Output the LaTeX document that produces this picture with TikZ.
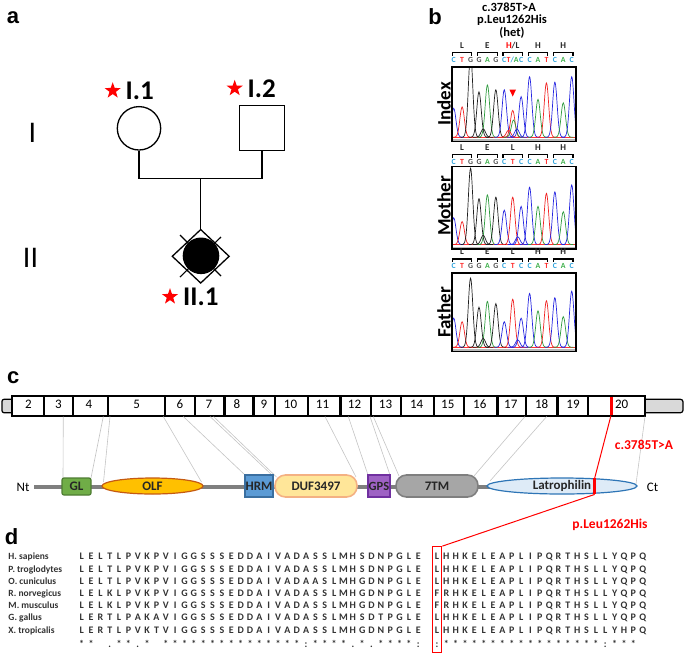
\documentclass[tikz,border=0pt]{standalone}
\usepackage{fontspec}
\setmainfont{Carlito}
\newfontfamily\arialf{Liberation Sans}
\usetikzlibrary{shapes.geometric}
\definecolor{trA}{HTML}{2E9B3E}
\definecolor{trC}{HTML}{2525E0}
\definecolor{trG}{HTML}{1E1E1E}
\definecolor{trT}{HTML}{F02222}
\definecolor{bC}{HTML}{2FA3DC}
\definecolor{bT}{HTML}{FF2A2A}
\definecolor{bG}{HTML}{505050}
\definecolor{bA}{HTML}{3DAF4A}
\definecolor{glg}{HTML}{70AD47}\definecolor{glgd}{HTML}{4E7D32}
\definecolor{olfo}{HTML}{FFC000}\definecolor{olfd}{HTML}{C55A11}
\definecolor{hrmb}{HTML}{5B9BD5}\definecolor{hrmd}{HTML}{3A6FA0}
\definecolor{dufy}{HTML}{FFE699}\definecolor{dufd}{HTML}{F4B183}
\definecolor{gpsp}{HTML}{9E62C4}\definecolor{gpsd}{HTML}{7030A0}
\definecolor{tmg}{HTML}{A6A6A6}\definecolor{tmd}{HTML}{7F7F7F}
\definecolor{latb}{HTML}{DEEBF7}\definecolor{latd}{HTML}{2E75B6}
\definecolor{bbgrey}{HTML}{7F7F7F}
\definecolor{capgrey}{HTML}{D9D9D9}
\definecolor{lgrey}{HTML}{C4C4C4}
\definecolor{txt}{HTML}{333333}
\newcommand\fs[1]{\fontsize{#1}{#1}\selectfont}
\newcount\seqk
\newcommand\seqrow[3]{\def\sy{#2}\def\sid{#1}\global\seqk=0 \seqloop#3\relax}
\def\seqloop#1{%
  \ifx\relax#1\else
    \global\advance\seqk by 1
    \pgfmathsetmacro\sx{81.7+(\the\seqk-1)*9.35+(\the\seqk>37)*9.35}%
    \if x#1\else\node[aa] (\sid c\the\seqk) at (\sx,\sy) {#1};\fi
    \expandafter\seqloop
  \fi}
\newcommand\chrom[3]{%
  \pgfmathsetmacro\bb{#2-4.5}%
  \pgfmathsetmacro\bhh{#2-#1-6}%
  \begin{scope}
    \clip (452,#1) rectangle (576,#2);
    \draw[gray!55, line width=1.4] (452,#2-1.8) -- (576,#2-1.8);
    \draw[red!80, line width=0.5] (452,\bb) -- (576,\bb);
    \foreach \c/\i/\h in {#3} {
      \pgfmathsetmacro\pc{453.7+\i*8.43}%
      \pgfmathsetmacro\pa{\pc-10}%
      \pgfmathsetmacro\pz{\pc+10}%
      \draw[color=\c, line width=0.7] plot[domain=\pa:\pz, samples=31, smooth]
        (\x,{\bb-\h*\bhh*exp(-(\x-\pc)*(\x-\pc)/10)});
    }
  \end{scope}
  \draw[line width=1.5] (452,#1) rectangle (576,#2);
}
\newcommand\codonrow[4]{%
  \foreach \a [count=\k from 0] in {#4} {
    \pgfmathsetmacro\cx{462.1+25.29*\k}%
    \node[aalab] (#1a\k) at (\cx,#2) {\a};
    \draw[brk] ({\cx-9.7},{#3+3}) -- ({\cx-9.7},#3) -- ({\cx+9.7},#3) -- ({\cx+9.7},{#3+3});
  }}
\newcommand\baserow[3]{%
  \foreach \c/\b [count=\i from 0] in {#3} {
    \pgfmathsetmacro\bxx{453.7+8.43*\i}%
    \node[basel, text=\c] (#1b\i) at (\bxx,#2) {\b};
  }}
\tikzset{
 plab/.style={font=\arialf\bfseries\fs{22}, inner sep=0},
 gen/.style={font=\fs{30}, inner sep=0},
 pid/.style={font=\bfseries\fs{27}, inner sep=0, anchor=west},
 rstar/.style={star, star points=5, star point ratio=2.5, fill=red, inner sep=0, minimum size=17},
 ped/.style={draw, line width=1.3},
 hdr/.style={font=\bfseries\fs{12.5}, inner sep=0},
 aalab/.style={font=\bfseries\fs{9}, inner sep=0, text=black!85},
 basel/.style={font=\bfseries\fs{7.8}, inner sep=0},
 brk/.style={line width=1.1},
 rot/.style={font=\bfseries\fs{19}, inner sep=0, rotate=90},
 exn/.style={font=\fs{13}, inner sep=0},
 dom/.style={font=\bfseries\fs{13}, inner sep=0, text=black!85, line width=1.2},
 conn/.style={draw=lgrey, line width=0.6},
 mutlab/.style={font=\bfseries\fs{13.5}, text=red, inner sep=0},
 spc/.style={font=\bfseries\fs{9.5}, text=txt, inner sep=0, anchor=base west},
 aa/.style={font=\bfseries\fs{10}, text=txt, inner sep=0, anchor=base},
}
\begin{document}
\begin{tikzpicture}[x=1pt,y=-1pt]
\useasboundingbox (0,0) rectangle (685,654);
% ---------- panel letters
\node[plab] (pa) at (13,17.5) {a};
\node[plab] (pb) at (435,16.7) {b};
\node[plab] (pc) at (13.3,377.5) {c};
\node[plab] (pd) at (11.7,537) {d};
% ---------- panel a : pedigree
\node[ped, circle, minimum size=43.4, inner sep=0] (I1) at (139,128.3) {};
\node[ped, rectangle, minimum size=45, inner sep=0] (I2) at (262,128.3) {};
\coordinate (mL) at (139,178.3);
\coordinate (mR) at (262,178.3);
\coordinate (mC) at (200.7,178.3);
\draw[line width=1.3] (I1.south) -- (mL) -- (mR) -- (I2.south);
\node[ped, diamond, minimum width=57.4, minimum height=54, inner sep=0] (II1) at (200.7,256.3) {};
\draw[line width=1.3] (mC) -- (II1.north);
\coordinate (x1) at (180,235); \coordinate (x2) at (221,276);
\coordinate (x3) at (221,237); \coordinate (x4) at (180,277);
\draw[line width=1.1] (x1) -- (x2);
\draw[line width=1.1] (x3) -- (x4);
\node[circle, fill=black, minimum size=36.6, inner sep=0] (II1c) at (201,255.8) {};
\node[rstar] (s1) at (112.7,90.7) {};
\node[pid] (l1) at (125.5,90.7) {I.1};
\node[rstar] (s2) at (234.7,88.3) {};
\node[pid] (l2) at (247.5,88.3) {I.2};
\node[rstar] (s3) at (170,296.7) {};
\node[pid] (l3) at (183,296.7) {II.1};
\node[gen] (gI) at (32.3,132.7) {I};
\node[gen] (gII) at (30.5,257.5) {II};
% ---------- panel b : chromatograms
\node[hdr] (h1) at (509,6.8) {c.3785T>A};
\node[hdr] (h2) at (512,19.8) {p.Leu1262His};
\node[hdr] (h3) at (512,33) {(het)};
\codonrow{ix}{45.7}{52.5}{L,E,{\textcolor{red}{H}/L},H,H}
\baserow{ix}{59.5}{bC/C,bT/T,bG/G,bG/G,bA/A,bG/G,bC/C,bT/{T\textcolor{bC}{/}\textcolor{bA}{A}},bC/C,bC/C,bA/A,bT/T,bC/C,bA/A,bC/C}
\chrom{67}{141.7}{trC/0/.42,trT/1/.44,trG/2/1.2,trG/3/.66,trA/4/.76,trG/5/.69,trC/6/.69,trT/7/.39,trA/7.1/.25,trC/8/.59,trC/9/.88,trA/10/.55,trT/11/.79,trC/12/.8,trA/13/.5,trC/14/.88,trG/3.5/.12,trT/6.5/.1,trC/7.5/.12}
\fill[red] (509.4,89.5) -- (516,89.5) -- (512.7,96.5) -- cycle;
\node[rot] (lix) at (444,104) {Index};
\codonrow{mo}{147.5}{154.5}{L,E,L,H,H}
\baserow{mo}{161.5}{bC/C,bT/T,bG/G,bG/G,bA/A,bG/G,bC/C,bT/T,bC/C,bC/C,bA/A,bT/T,bC/C,bA/A,bC/C}
\chrom{166.7}{249}{trC/0/.35,trT/1/.3,trG/2/1.0,trG/3/.6,trA/4/.65,trG/5/.62,trC/6/.45,trT/7/.62,trC/8/.5,trC/9/.75,trA/10/.5,trT/11/.67,trC/12/.69,trA/13/.43,trC/14/.78,trG/3.5/.12,trC/7.6/.1}
\node[rot] (lmo) at (444,206) {Mother};
\codonrow{fa}{252}{259}{L,E,L,H,H}
\baserow{fa}{266}{bC/C,bT/T,bG/G,bG/G,bA/A,bG/G,bC/C,bT/T,bC/C,bC/C,bA/A,bT/T,bC/C,bA/A,bC/C}
\chrom{273}{351.7}{trC/0/.4,trT/1/.35,trG/2/.95,trG/3/.55,trA/4/.63,trG/5/.6,trC/6/.35,trT/7/.66,trC/8/.4,trC/9/.74,trA/10/.5,trT/11/.64,trC/12/.68,trA/13/.42,trC/14/.77,trG/3.5/.12,trC/7.6/.1}
\node[rot] (lfa) at (444,312.5) {Father};
% ---------- panel c : exon bar
\draw[fill=capgrey, line width=1.2, rounded corners=2] (2,399.3) rectangle (14,412.7);
\draw[fill=capgrey, line width=1.2, rounded corners=2.5] (642,399.3) rectangle (683,412.7);
\draw[fill=white, line width=1.6] (11.7,396) rectangle (645,416);
\foreach \xb in {44,73,108,165,195,224.5,253.5,275,308,340.5,371,401,434,464,497.5,526,557.5,588}
  \draw[line width=2.2] (\xb,396) -- (\xb,416);
\foreach \n/\xc in {2/28.3,3/58.3,4/89,5/136.7,6/180,7/208.8,8/237,9/263.8,10/290.5,11/322.5,12/354.5,13/385.5,14/416.7,15/447.8,16/479.8,17/510.8,18/541.7,19/573,20/621.7}
  \node[exn] (ex\n) at (\xc,404) {\n};
\node[fill=red, minimum width=3, minimum height=18.5, inner sep=0] (exm) at (611,406) {};
% connectors exon -> domain
\foreach \k/\xt/\xe/\ye in {1/63.3/63/478,2/103.3/91/478,3/110/103.5/482,4/163.3/201.5/482,5/183.3/245/475,6/210/273/476,7/213.5/276.5/477,8/325/356/477,9/348.3/368/475,10/370/390/475,11/373.3/399/476,12/525/474/476,13/546.7/490/481,14/645/636/484}{
  \coordinate (ct\k) at (\xt,416.5);
  \coordinate (cb\k) at (\xe,\ye);
  \draw[conn] (ct\k) -- (cb\k);
}
% protein backbone and domains
\coordinate (bbL) at (34,486.5);
\coordinate (bbR) at (600,486.5);
\draw[bbgrey, line width=4] (bbL) -- (bbR);
\node[dom, draw=glgd, fill=glg, rounded corners=2, minimum width=29, minimum height=17] (gl) at (76.5,486.5) {GL};
\node[dom, ellipse, draw=olfd, fill=olfo, minimum width=101, minimum height=16] (olf) at (152.5,486) {OLF};
\node[dom, draw=hrmd, fill=hrmb, minimum width=28, minimum height=22] (hrm) at (259,486) {HRM};
\node[dom, draw=dufd, fill=dufy, line width=1.6, rounded corners=10.5, minimum width=82, minimum height=22] (duf) at (316,486) {DUF3497};
\node[dom, draw=gpsd, fill=gpsp, minimum width=22, minimum height=22, font=\bfseries\fs{12.5}] (gps) at (379,486) {GPS};
\node[dom, draw=tmd, fill=tmg, line width=1.6, rounded corners=10.5, minimum width=82, minimum height=22] (tm7) at (437,486) {7TM};
\node[dom, ellipse, draw=latd, fill=latb, minimum width=150, minimum height=16] (lat) at (562,486) {Latrophilin};
\node[fill=red, minimum width=3.5, minimum height=16, inner sep=0] (mut) at (594.7,486.2) {};
\node[exn] (nt) at (23,487) {Nt};
\node[exn] (ctl) at (652.5,487) {Ct};
% mutation labels and red connectors
\node[mutlab] (cmut) at (644,445) {c.3785T>A};
\node[mutlab] (pmut) at (610,525) {p.Leu1262His};
\node[draw=red, line width=1.3, minimum width=9.5, minimum height=105.5, inner sep=0] (abox) at (437,599.5) {};
\draw[red, line width=1] (exm.south) -- (mut.north);
\draw[red, line width=1] (mut.south) -- (abox.north east);
% ---------- panel d : alignment
\node[spc] (sp1) at (8.3,559.9) {H. sapiens};
\node[spc] (sp2) at (8.3,572.1) {P. troglodytes};
\node[spc] (sp3) at (8.3,584.3) {O. cuniculus};
\node[spc] (sp4) at (8.3,596.5) {R. norvegicus};
\node[spc] (sp5) at (8.3,608.7) {M. musculus};
\node[spc] (sp6) at (8.3,620.9) {G. gallus};
\node[spc] (sp7) at (8.3,633.1) {X. tropicalis};
\seqrow{ra}{559.9}{LELTLPVKPVIGGSSSEDDAIVADASSLMHSDNPGLELHHKELEAPLIPQRTHSLLYQPQ}
\seqrow{rb}{572.1}{LELTLPVKPVIGGSSSEDDAIVADASSLMHSDNPGLELHHKELEAPLIPQRTHSLLYQPQ}
\seqrow{rc}{584.3}{LELTLPVKPVIGGSSSEDDAIVADAASLMHGDNPGLELHHKELEAPLIPQRTHSLLYQPQ}
\seqrow{rd}{596.5}{LELKLPVKPVIGGSSSEDDAIVADASSLMHGDNPGLEFRHKELEAPLIPQRTHSLLYQPQ}
\seqrow{re}{608.7}{LELKLPVKPVIGGSSSEDDAIVADASSLMHGDNPGLEFRHKELEAPLIPQRTHSLLYQPQ}
\seqrow{rf}{620.9}{LERTLPAKAVIGGSSSEDDAIVADASSLMHSDTPGLELHHKELEAPLIPQRTHSLLYQPQ}
\seqrow{rg}{633.1}{LERTLPVKTVIGGSSSEDDAIVADASSLMHGDNPGLELHHKELEAPLIPQRTHSLLYHPQ}
\seqrow{rh}{647}{**x.**.*x***************:****.*.****::*****************:***}
\end{tikzpicture}
\end{document}
